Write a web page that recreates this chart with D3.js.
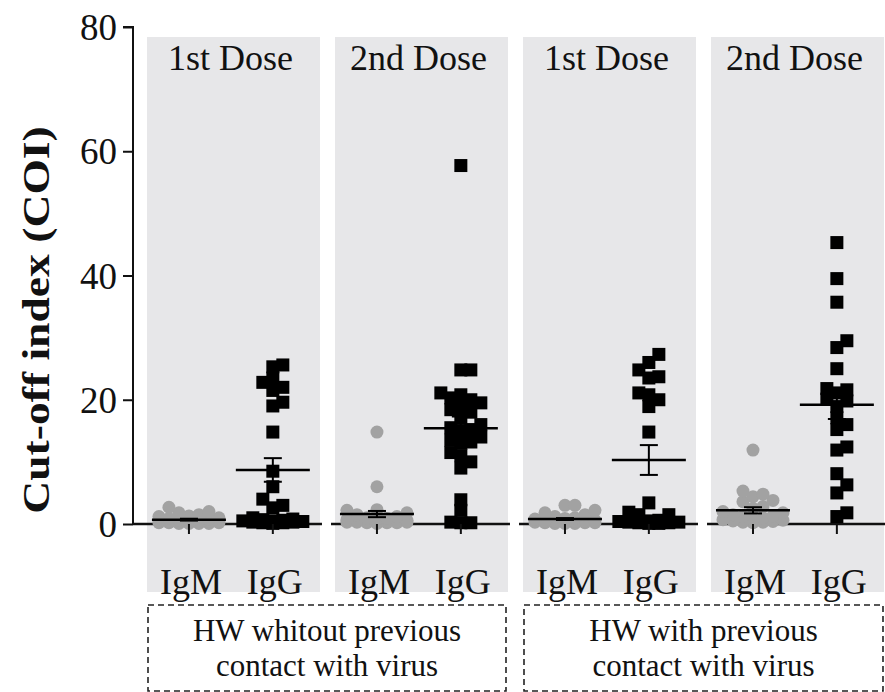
<!DOCTYPE html>
<html>
<head>
<meta charset="utf-8">
<script src="https://cdn.jsdelivr.net/npm/d3@7"></script>
<style>
  html, body { margin: 0; padding: 0; background: #fff; }
  svg { display: block; }
  text { font-family: "Liberation Serif", "Times New Roman", serif; fill: #111; }
</style>
</head>
<body>
<svg id="chart" width="885" height="692"></svg>
<script>
// ---------- data ----------
const panelTitles = ["1st Dose", "2nd Dose", "1st Dose", "2nd Dose"];
const groups = ["IgM", "IgG"];
const yTicks = [0, 20, 40, 60, 80];
const yTitle = "Cut-off index (COI)";
const boxLabels = [["HW whitout previous", "contact with virus"], ["HW with previous", "contact with virus"]];

const p1IgM = [2.7, 2.0, 1.8, 1.5, 1.3, 1.2, 1.0, 0.9, 0.8, 0.7, 0.6, 0.6, 0.5, 0.5, 0.4, 0.4, 0.3, 0.3, 0.3, 0.2, 0.2, 0.2, 0.1, 0.1, 0.1, 0.1];
const p1IgG = [25.6, 25.3, 23.5, 22.8, 22.0, 21.5, 19.6, 19.0, 14.8, 8.5, 6.0, 4.0, 3.0, 2.6, 1.0, 0.8, 0.7, 0.6, 0.5, 0.5, 0.4, 0.3, 0.3, 0.2, 0.2, 0.1];
const p2IgM = [14.8, 6.0, 2.3, 2.2, 1.8, 1.5, 1.2, 1.0, 0.9, 0.8, 0.7, 0.6, 0.6, 0.5, 0.5, 0.4, 0.4, 0.3, 0.3, 0.3, 0.2, 0.2, 0.2, 0.1];
const p2IgG = [57.7, 24.8, 24.8, 21.1, 20.8, 20.3, 20.0, 19.5, 18.8, 18.4, 18.0, 17.0, 16.0, 15.5, 15.2, 15.0, 14.0, 13.5, 13.2, 13.0, 11.5, 11.0, 10.0, 9.0, 3.9, 2.2, 0.3, 0.2, 0.2];
const p3IgM = [3.0, 3.0, 2.2, 1.8, 1.5, 1.2, 1.0, 0.9, 0.8, 0.6, 0.5, 0.5, 0.4, 0.4, 0.3, 0.3, 0.2, 0.2, 0.2, 0.1, 0.1, 0.1];
const p3IgG = [27.3, 26.0, 24.8, 23.7, 23.5, 21.1, 20.8, 20.0, 18.9, 14.8, 3.4, 1.9, 1.5, 1.5, 0.6, 0.5, 0.4, 0.3, 0.3, 0.2, 0.2, 0.1, 0.1];
const p4IgM = [11.9, 5.3, 4.8, 4.4, 3.8, 3.6, 2.8, 2.5, 2.0, 1.8, 1.5, 1.3, 1.2, 1.0, 0.8, 0.7, 0.6, 0.5, 0.4, 0.3, 0.3, 0.2];
const p4IgG = [45.3, 39.5, 35.7, 29.5, 28.4, 25.0, 21.8, 21.6, 21.1, 20.1, 19.8, 18.9, 17.1, 16.0, 15.2, 12.4, 11.9, 8.1, 6.3, 5.0, 1.8, 1.2];

const meanIgM = [0.7, 1.6, 0.8, 2.2];
const semIgM  = [0.15, 0.5, 0.15, 0.5];
const meanIgG = [8.7, 15.4, 10.3, 19.2];
const semIgG  = [1.9, 1.9, 2.4, 2.3];

const igmSets = [p1IgM, p2IgM, p3IgM, p4IgM];
const iggSets = [p1IgG, p2IgG, p3IgG, p4IgG];

// ---------- layout ----------
const svg = d3.select("#chart");
const axisX = 133;
const panelTop = 37, panelBottom = 592;

const y = d3.scaleLinear().domain([0, 80]).range([524, 27]);
const panelScale = d3.scaleBand().domain(d3.range(4)).range([147, 884]).paddingInner(0.08).paddingOuter(0);
const bw = panelScale.bandwidth();
const inner = d3.scalePoint().domain(groups).range([0, bw * 0.97]).padding(0.5);

const panelColor = "#e7e7e9";
const grey = "#a2a2a2";
const ptSize = 13;

// panels
svg.append("g").selectAll("rect").data(d3.range(4)).join("rect")
  .attr("x", d => panelScale(d)).attr("y", panelTop)
  .attr("width", bw).attr("height", panelBottom - panelTop)
  .attr("fill", panelColor);

// panel titles
svg.append("g").selectAll("text").data(panelTitles).join("text")
  .attr("x", (d, i) => panelScale(i) + bw / 2 - 3)
  .attr("y", 70)
  .attr("text-anchor", "middle")
  .attr("font-size", 36)
  .text(d => d);

// y axis
const yAxis = d3.axisLeft(y).tickValues(yTicks).tickSize(10).tickPadding(6).tickFormat(d3.format("d"));
const gy = svg.append("g").attr("transform", `translate(${axisX},0)`).call(yAxis);
gy.select(".domain").attr("stroke", "#111").attr("stroke-width", 2).attr("d", `M-10,${y(80)}H0V${y(0)}`);
gy.selectAll(".tick line").attr("stroke", "#111").attr("stroke-width", 2);
gy.selectAll(".tick text").attr("font-size", 37).attr("fill", "#111")
  .attr("font-family", '"Liberation Serif", "Times New Roman", serif').attr("dy", "0.34em");

// y title
svg.append("text")
  .attr("transform", `translate(49,${320}) rotate(-90) scale(1.2,1)`)
  .attr("text-anchor", "middle")
  .attr("font-size", 38)
  .attr("font-weight", "bold")
  .text(yTitle);

// zero lines per panel
svg.append("g").selectAll("line").data(d3.range(4)).join("line")
  .attr("x1", d => d === 0 ? axisX : panelScale(d) - 4)
  .attr("x2", d => panelScale(d) + bw + 2)
  .attr("y1", y(0)).attr("y2", y(0))
  .attr("stroke", "#111").attr("stroke-width", 2.5);

// beeswarm layout
function swarm(values, cx) {
  const sorted = values.slice().sort((a, b) => a - b);
  const placed = [];
  const step = 10, minD = 10, maxK = 3;
  sorted.forEach(v => {
    const py = y(v);
    let best = null, bestCost = Infinity;
    for (let k = 0; k <= maxK; k++) {
      const cands = k === 0 ? [0] : [k * step, -k * step];
      for (const off of cands) {
        let cost = 0;
        for (const p of placed) {
          const dx = Math.abs(p.x - (cx + off)), dy = Math.abs(p.y - py);
          if (dx < minD && dy < minD) cost += (minD - dx) * (minD - dy);
        }
        if (cost === 0) { best = off; bestCost = 0; break; }
        if (cost < bestCost) { bestCost = cost; best = off; }
      }
      if (bestCost === 0) break;
    }
    placed.push({ x: cx + best, y: py, v });
  });
  return placed;
}

const gPts = svg.append("g");
for (let i = 0; i < 4; i++) {
  const cxM = panelScale(i) + inner("IgM");
  const cxG = panelScale(i) + inner("IgG");
  gPts.append("g").selectAll("circle").data(swarm(igmSets[i], cxM)).join("circle")
    .attr("cx", d => d.x).attr("cy", d => d.y).attr("r", ptSize / 2)
    .attr("fill", grey);
  gPts.append("g").selectAll("rect").data(swarm(iggSets[i], cxG)).join("rect")
    .attr("x", d => d.x - ptSize / 2).attr("y", d => d.y - ptSize / 2)
    .attr("width", ptSize).attr("height", ptSize)
    .attr("fill", "#000");
}

// mean + SEM
const stats = [];
for (let i = 0; i < 4; i++) {
  stats.push({ cx: panelScale(i) + inner("IgM"), m: meanIgM[i], s: semIgM[i] });
  stats.push({ cx: panelScale(i) + inner("IgG"), m: meanIgG[i], s: semIgG[i] });
}
const gS = svg.append("g").attr("stroke", "#000");
gS.selectAll("line.mean").data(stats).join("line").attr("class", "mean")
  .attr("x1", d => d.cx - 37).attr("x2", d => d.cx + 37)
  .attr("y1", d => y(d.m)).attr("y2", d => y(d.m)).attr("stroke-width", 2.5);
gS.selectAll("line.err").data(stats).join("line").attr("class", "err")
  .attr("x1", d => d.cx).attr("x2", d => d.cx)
  .attr("y1", d => y(d.m + d.s)).attr("y2", d => y(d.m - d.s)).attr("stroke-width", 2);
gS.selectAll("line.capT").data(stats).join("line").attr("class", "capT")
  .attr("x1", d => d.cx - 9).attr("x2", d => d.cx + 9)
  .attr("y1", d => y(d.m + d.s)).attr("y2", d => y(d.m + d.s)).attr("stroke-width", 2);
gS.selectAll("line.capB").data(stats).join("line").attr("class", "capB")
  .attr("x1", d => d.cx - 9).attr("x2", d => d.cx + 9)
  .attr("y1", d => y(d.m - d.s)).attr("y2", d => y(d.m - d.s)).attr("stroke-width", 2);

// x ticks and labels
const cats = [];
for (let i = 0; i < 4; i++) groups.forEach(g => cats.push({ x: panelScale(i) + inner(g), g }));
svg.append("g").selectAll("line").data(cats).join("line")
  .attr("x1", d => d.x).attr("x2", d => d.x)
  .attr("y1", y(0)).attr("y2", y(0) + 10)
  .attr("stroke", "#111").attr("stroke-width", 2);
svg.append("g").selectAll("text").data(cats).join("text")
  .attr("x", d => d.x + 2).attr("y", 594)
  .attr("text-anchor", "middle").attr("font-size", 36)
  .text(d => d.g);

// dashed boxes
const boxes = [{ x0: 148, x1: 506 }, { x0: 524, x1: 883 }];
const gB = svg.append("g");
boxes.forEach((b, i) => {
  gB.append("rect")
    .attr("x", b.x0).attr("y", 605).attr("width", b.x1 - b.x0).attr("height", 86)
    .attr("fill", "none").attr("stroke", "#222").attr("stroke-width", 1.6)
    .attr("stroke-dasharray", "6,4");
  boxLabels[i].forEach((t, j) => {
    gB.append("text")
      .attr("x", (b.x0 + b.x1) / 2).attr("y", 641 + j * 35)
      .attr("text-anchor", "middle").attr("font-size", 31)
      .text(t);
  });
});
</script>
</body>
</html>
